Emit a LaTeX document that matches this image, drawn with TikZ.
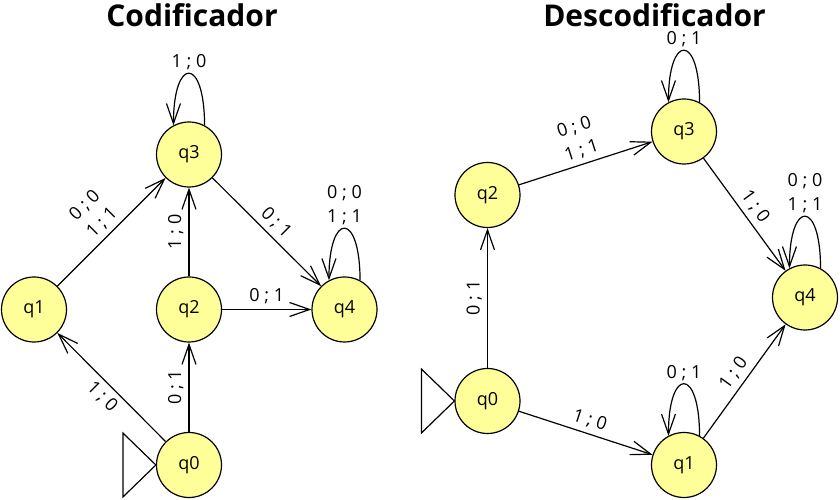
\documentclass[tikz,border=0pt]{standalone}
\usepackage{fontspec}
\setmainfont{Open Sans}
\usetikzlibrary{arrows.meta,automata}
\definecolor{stateyellow}{RGB}{255,255,153}

\begin{document}
\begin{tikzpicture}[x=1pt,y=1pt,->,>={Straight Barb[length=20pt,width=14pt]},
                    line width=1.2pt,
                    every state/.style={draw,fill=stateyellow,minimum size=65pt,inner sep=0pt},
                    font=\fontsize{18}{24.5}\selectfont,
                    elbl/.style={sloped,inner sep=5pt,align=center},
                    llbl/.style={above,inner sep=3pt,align=center},
                    title/.style={font=\fontsize{30}{34}\selectfont\bfseries,anchor=base}]
  \useasboundingbox (0,0) rectangle (840,500);

  % Codificador
  \node[title] (ctitle) at (192,473) {Codificador};
  \node[state] (cq0) at (189,35)    {q0};
  \node[state] (cq1) at (34,190.5)  {q1};
  \node[state] (cq2) at (189,190.5) {q2};
  \node[state] (cq3) at (189,345.5) {q3};
  \node[state] (cq4) at (344.5,190.5) {q4};
  \draw[-] (cq0.west) -- ++(-33,32) -- ++(0,-64) -- cycle;

  \path (cq0) edge node[elbl,below] {1 ; 0} (cq1)
              edge node[elbl,above] {0 ; 1} (cq2)
        (cq1) edge node[elbl,above] {0 ; 0\\1 ; 1} (cq3)
        (cq2) edge node[elbl,above] {1 ; 0} (cq3)
              edge node[elbl,above] {0 ; 1} (cq4)
        (cq3) edge node[elbl,above] {0 ; 1} (cq4)
        (cq3.62) edge[out=90,in=90,looseness=5.7] node[llbl] {1 ; 0} (cq3.118)
        (cq4.62) edge[out=90,in=90,looseness=5.7] node[llbl] {0 ; 0\\1 ; 1} (cq4.118);

  % Descodificador
  \node[title] (dtitle) at (654.5,473) {Descodificador};
  \node[state] (dq0) at (487.5,99)  {q0};
  \node[state] (dq1) at (684,35)    {q1};
  \node[state] (dq2) at (487.5,305) {q2};
  \node[state] (dq3) at (684,368.5) {q3};
  \node[state] (dq4) at (805,202.5) {q4};
  \draw[-] (dq0.west) -- ++(-33,32) -- ++(0,-64) -- cycle;

  \path (dq0) edge node[elbl,above] {0 ; 1} (dq2)
              edge node[elbl,above] {1 ; 0} (dq1)
        (dq2) edge node[elbl,above] {0 ; 0\\1 ; 1} (dq3)
        (dq3) edge node[elbl,above] {1 ; 0} (dq4)
        (dq1) edge node[elbl,above] {1 ; 0} (dq4)
        (dq3.62) edge[out=90,in=90,looseness=5.7] node[llbl] {0 ; 1} (dq3.118)
        (dq4.62) edge[out=90,in=90,looseness=5.7] node[llbl] {0 ; 0\\1 ; 1} (dq4.118)
        (dq1.62) edge[out=90,in=90,looseness=5.7] node[llbl] {0 ; 1} (dq1.118);
\end{tikzpicture}
\end{document}
